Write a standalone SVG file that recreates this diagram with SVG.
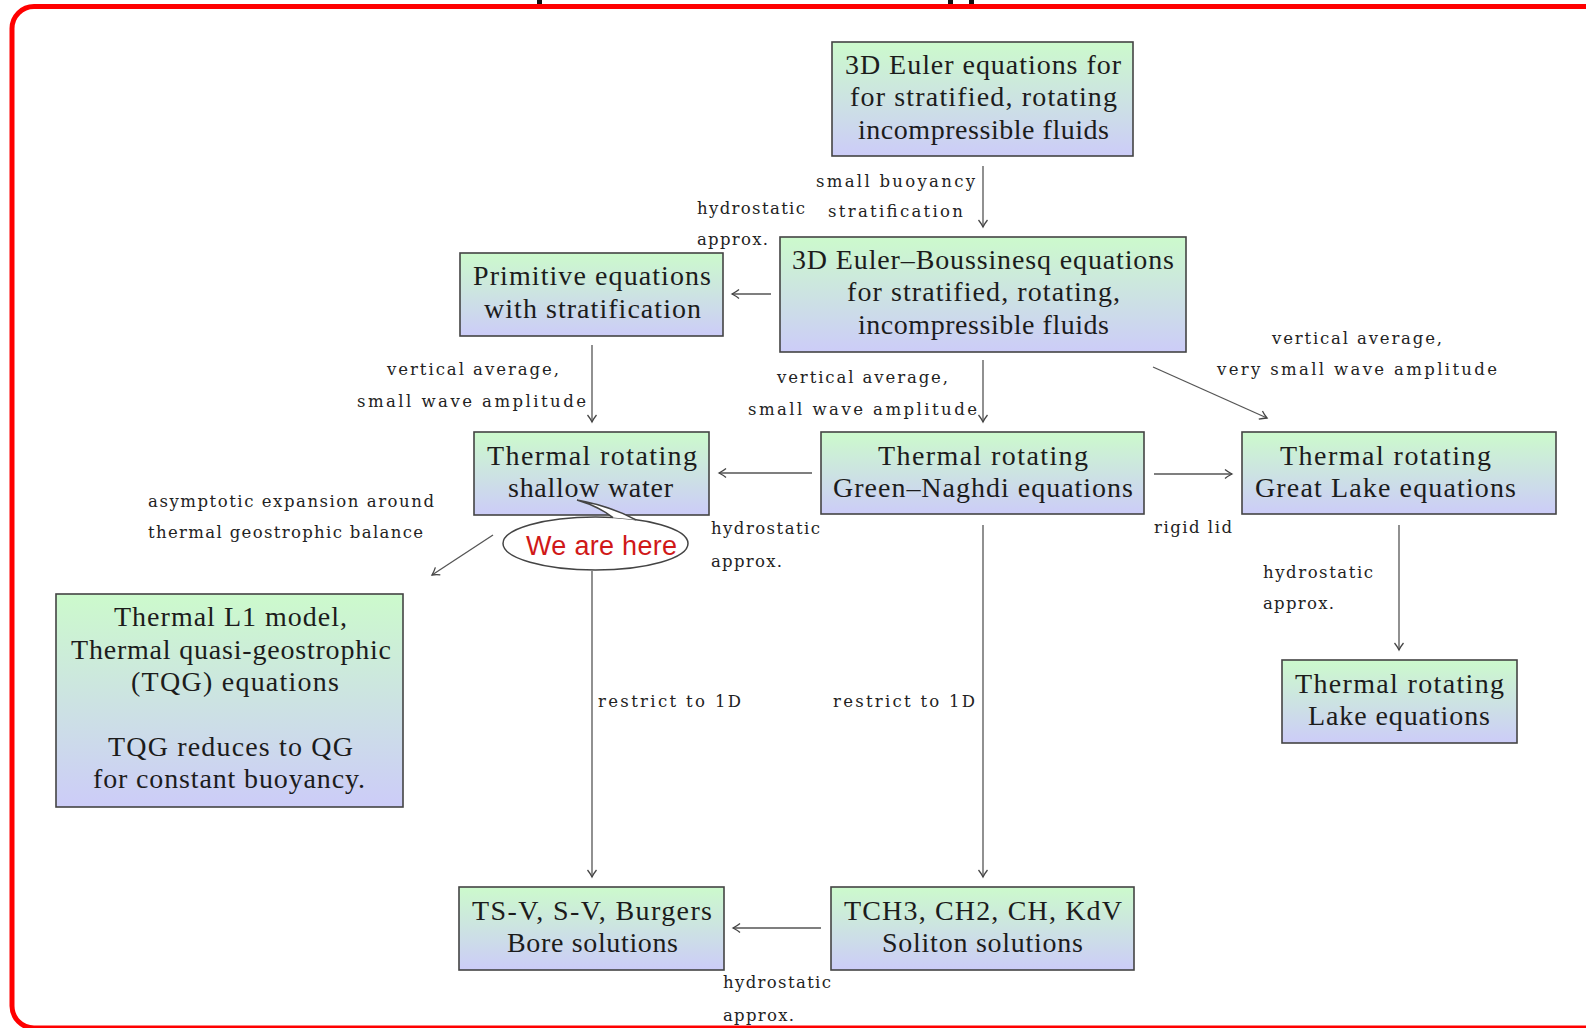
<svg xmlns="http://www.w3.org/2000/svg" width="1586" height="1028" viewBox="0 0 1586 1028">
<defs>
<linearGradient id="shade" x1="0" y1="0" x2="0" y2="1">
<stop offset="0" stop-color="#ccfacc"/>
<stop offset="1" stop-color="#ccccf8"/>
</linearGradient>
<marker id="tip" viewBox="-9 -6 11 12" refX="0" refY="0" markerWidth="11" markerHeight="12" markerUnits="userSpaceOnUse" orient="auto" overflow="visible">
<path d="M-7,-4.5 C-4,-2 -1.2,-0.6 0,0 C-1.2,0.6 -4,2 -7,4.5" fill="none" stroke="#444" stroke-width="1.3"/>
</marker>
<style>
.box{fill:url(#shade);stroke:#444;stroke-width:1.6}
.nt{font-family:"Liberation Serif","Times New Roman",serif;font-size:28px;fill:#1c1c1c}
.lb{font-family:"DejaVu Serif","Liberation Serif",serif;font-size:16.5px;fill:#222}
.cn{fill:none;stroke:#555;stroke-width:1.3;marker-end:url(#tip)}
</style>
</defs>
<rect width="1586" height="1028" fill="#ffffff"/>
<g id="frame">
<path d="M1600 6.5 H34 A22 22 0 0 0 12 28.5 V1006 A22 22 0 0 0 34 1028 H1600" fill="none" stroke="#ff0000" stroke-width="5"/>
<rect x="537" y="0" width="5" height="4" fill="#111"/>
<rect x="948" y="0" width="5" height="4" fill="#111"/>
<rect x="969" y="0" width="5" height="4" fill="#111"/>
</g>
<g id="connectors">
<line class="cn" x1="983" y1="166" x2="983" y2="227"/>
<line class="cn" x1="771" y1="294" x2="732" y2="294"/>
<line class="cn" x1="592" y1="345" x2="592" y2="422"/>
<line class="cn" x1="983" y1="360" x2="983" y2="422"/>
<line class="cn" x1="1153" y1="367" x2="1267" y2="418"/>
<line class="cn" x1="812" y1="473" x2="719" y2="473"/>
<line class="cn" x1="1154" y1="474" x2="1232" y2="474"/>
<line class="cn" x1="1399" y1="525" x2="1399" y2="650"/>
<line class="cn" x1="493" y1="535" x2="432" y2="575"/>
<line class="cn" x1="592" y1="571" x2="592" y2="877"/>
<line class="cn" x1="983" y1="525" x2="983" y2="877"/>
<line class="cn" x1="821" y1="928" x2="733" y2="928"/>
</g>
<g id="labels">
<text class="lb" x="816" y="187" textLength="159" lengthAdjust="spacing">small buoyancy</text>
<text class="lb" x="828" y="217" textLength="135" lengthAdjust="spacing">stratification</text>
<text class="lb" x="697" y="214" textLength="108" lengthAdjust="spacing">hydrostatic</text>
<text class="lb" x="697" y="245" textLength="71" lengthAdjust="spacing">approx.</text>
<text class="lb" x="387" y="375" textLength="172" lengthAdjust="spacing">vertical average,</text>
<text class="lb" x="357" y="407" textLength="229" lengthAdjust="spacing">small wave amplitude</text>
<text class="lb" x="777" y="383" textLength="171" lengthAdjust="spacing">vertical average,</text>
<text class="lb" x="748" y="415" textLength="229" lengthAdjust="spacing">small wave amplitude</text>
<text class="lb" x="1272" y="344" textLength="170" lengthAdjust="spacing">vertical average,</text>
<text class="lb" x="1217" y="375" textLength="280" lengthAdjust="spacing">very small wave amplitude</text>
<text class="lb" x="1154" y="533" textLength="78" lengthAdjust="spacing">rigid lid</text>
<text class="lb" x="1263" y="578" textLength="110" lengthAdjust="spacing">hydrostatic</text>
<text class="lb" x="1263" y="609" textLength="71" lengthAdjust="spacing">approx.</text>
<text class="lb" x="148" y="507" textLength="286" lengthAdjust="spacing">asymptotic expansion around</text>
<text class="lb" x="148" y="538" textLength="275" lengthAdjust="spacing">thermal geostrophic balance</text>
<text class="lb" x="711" y="534" textLength="109" lengthAdjust="spacing">hydrostatic</text>
<text class="lb" x="711" y="567" textLength="71" lengthAdjust="spacing">approx.</text>
<text class="lb" x="598" y="707" textLength="143" lengthAdjust="spacing">restrict to 1D</text>
<text class="lb" x="833" y="707" textLength="142" lengthAdjust="spacing">restrict to 1D</text>
<text class="lb" x="723" y="988" textLength="108" lengthAdjust="spacing">hydrostatic</text>
<text class="lb" x="723" y="1021" textLength="71" lengthAdjust="spacing">approx.</text>
</g>
<g id="euler3d">
<rect class="box" x="832" y="42" width="301" height="114"/>
<text class="nt" x="845" y="74" textLength="276" lengthAdjust="spacing">3D Euler equations for</text>
<text class="nt" x="850" y="106" textLength="267" lengthAdjust="spacing">for stratified, rotating</text>
<text class="nt" x="858" y="138.5" textLength="251" lengthAdjust="spacing">incompressible fluids</text>
</g>
<g id="boussinesq">
<rect class="box" x="780" y="237" width="406" height="115"/>
<text class="nt" x="792" y="269" textLength="382" lengthAdjust="spacing">3D Euler–Boussinesq equations</text>
<text class="nt" x="847" y="301.3" textLength="273" lengthAdjust="spacing">for stratified, rotating,</text>
<text class="nt" x="858" y="333.7" textLength="251" lengthAdjust="spacing">incompressible fluids</text>
</g>
<g id="primitive">
<rect class="box" x="460" y="253" width="263" height="83"/>
<text class="nt" x="473" y="285.3" textLength="238" lengthAdjust="spacing">Primitive equations</text>
<text class="nt" x="484" y="317.7" textLength="217" lengthAdjust="spacing">with stratification</text>
</g>
<g id="tsw">
<rect class="box" x="474" y="432" width="235" height="83"/>
<text class="nt" x="487" y="464.5" textLength="210" lengthAdjust="spacing">Thermal rotating</text>
<text class="nt" x="508" y="496.5" textLength="165" lengthAdjust="spacing">shallow water</text>
</g>
<g id="greennaghdi">
<rect class="box" x="821" y="432" width="323" height="82"/>
<text class="nt" x="878" y="464.5" textLength="210" lengthAdjust="spacing">Thermal rotating</text>
<text class="nt" x="833" y="496.5" textLength="300" lengthAdjust="spacing">Green–Naghdi equations</text>
</g>
<g id="greatlake">
<rect class="box" x="1242" y="432" width="314" height="82"/>
<text class="nt" x="1280" y="464.5" textLength="211" lengthAdjust="spacing">Thermal rotating</text>
<text class="nt" x="1255" y="496.5" textLength="261" lengthAdjust="spacing">Great Lake equations</text>
</g>
<g id="lake">
<rect class="box" x="1282" y="660" width="235" height="83"/>
<text class="nt" x="1295" y="692.5" textLength="209" lengthAdjust="spacing">Thermal rotating</text>
<text class="nt" x="1308" y="725" textLength="182" lengthAdjust="spacing">Lake equations</text>
</g>
<g id="tqg">
<rect class="box" x="56" y="594" width="347" height="213"/>
<text class="nt" x="114" y="626.2" textLength="233" lengthAdjust="spacing">Thermal L1 model,</text>
<text class="nt" x="71" y="658.6" textLength="320" lengthAdjust="spacing">Thermal quasi-geostrophic</text>
<text class="nt" x="131" y="691" textLength="208" lengthAdjust="spacing">(TQG) equations</text>
<text class="nt" x="108" y="755.8" textLength="245" lengthAdjust="spacing">TQG reduces to QG</text>
<text class="nt" x="93" y="788.2" textLength="272" lengthAdjust="spacing">for constant buoyancy.</text>
</g>
<g id="bore">
<rect class="box" x="459" y="887" width="265" height="83"/>
<text class="nt" x="472" y="920" textLength="240" lengthAdjust="spacing">TS-V, S-V, Burgers</text>
<text class="nt" x="507" y="952" textLength="171" lengthAdjust="spacing">Bore solutions</text>
</g>
<g id="soliton">
<rect class="box" x="831" y="887" width="303" height="83"/>
<text class="nt" x="844" y="920" textLength="278" lengthAdjust="spacing">TCH3, CH2, CH, KdV</text>
<text class="nt" x="882" y="952" textLength="201" lengthAdjust="spacing">Soliton solutions</text>
</g>
<g id="bubble">
<ellipse cx="595.5" cy="543.5" rx="92.5" ry="26.5" fill="#ffffff" stroke="#444" stroke-width="1.5"/>
<path d="M613 517.6 Q598 506 577 500 Q610 506 636 519.8" fill="#ffffff" stroke="#444" stroke-width="1.5"/>
<text x="526" y="555" font-family="Liberation Sans, Arial, sans-serif" font-size="27" fill="#d01818" textLength="151" lengthAdjust="spacing">We are here</text>
</g>
</svg>
